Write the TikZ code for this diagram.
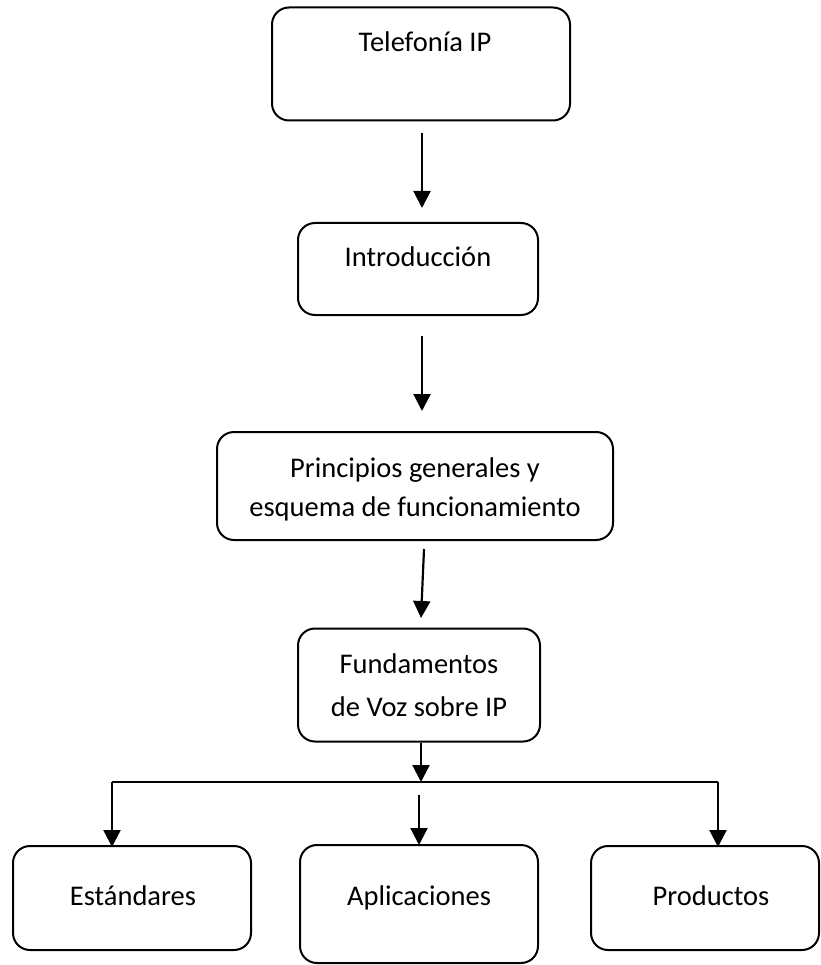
\documentclass[tikz,border=0pt]{standalone}
\usepackage{fontspec}
\setmainfont{Carlito}
\usetikzlibrary{arrows.meta}
\tikzset{
  box/.style={draw, line width=2pt, rounded corners=17pt, inner sep=0pt},
  lbl/.style={inner sep=0pt, anchor=base, font=\fontsize{28.5}{38}\selectfont},
  arr/.style={line width=2.2pt, -{Triangle[width=17pt,length=17pt]}},
  ln/.style={line width=2.2pt}
}
\begin{document}
\begin{tikzpicture}[x=1pt,y=-1pt]
\useasboundingbox (0,0) rectangle (820,965);
% boxes
\node[box, minimum width=298pt, minimum height=113pt] (b1) at (421,64) {};
\node[box, minimum width=240pt, minimum height=92pt] (b2) at (418,269) {};
\node[box, minimum width=396pt, minimum height=108pt] (b3) at (415,486) {};
\node[box, minimum width=242pt, minimum height=113pt] (b4) at (419,685) {};
\node[box, minimum width=238pt, minimum height=104pt] (b5) at (132,898) {};
\node[box, minimum width=238pt, minimum height=118pt] (b6) at (419,904) {};
\node[box, minimum width=228pt, minimum height=104pt] (b7) at (705,898) {};
% labels
\node[lbl] (t1) at (425,52) {Telefonía IP};
\node[lbl] (t2) at (418,266) {Introducción};
\node[lbl] (t3a) at (415,477) {Principios generales y};
\node[lbl] (t3b) at (415,516) {esquema de funcionamiento};
\node[lbl] (t4a) at (419,673) {Fundamentos};
\node[lbl] (t4b) at (419,716) {de Voz sobre IP};
\node[lbl] (t5) at (133,905) {Estándares};
\node[lbl] (t6) at (419,905) {Aplicaciones};
\node[lbl] (t7) at (711,905) {Productos};
% connector ends
\coordinate (a1s) at (422,133);
\coordinate (a1e) at (422,208);
\coordinate (a2s) at (422,336);
\coordinate (a2e) at (422,411);
\coordinate (a3s) at (424,549);
\coordinate (a3e) at (421,618);
\coordinate (hC) at (421,782);
\coordinate (hL) at (112,782);
\coordinate (hR) at (718,782);
\coordinate (eT) at (112,847);
\coordinate (pT) at (718,847);
\coordinate (mS) at (419,795);
\coordinate (mE) at (419,845);
% connectors
\draw[arr] (a1s) -- (a1e);
\draw[arr] (a2s) -- (a2e);
\draw[arr] (a3s) -- (a3e);
\draw[arr] (b4.south -| hC) -- (hC);
\draw[ln] (hL) -- (hR);
\draw[arr] (hL) -- (eT);
\draw[arr] (hR) -- (pT);
\draw[arr] (mS) -- (mE);
\end{tikzpicture}
\end{document}
